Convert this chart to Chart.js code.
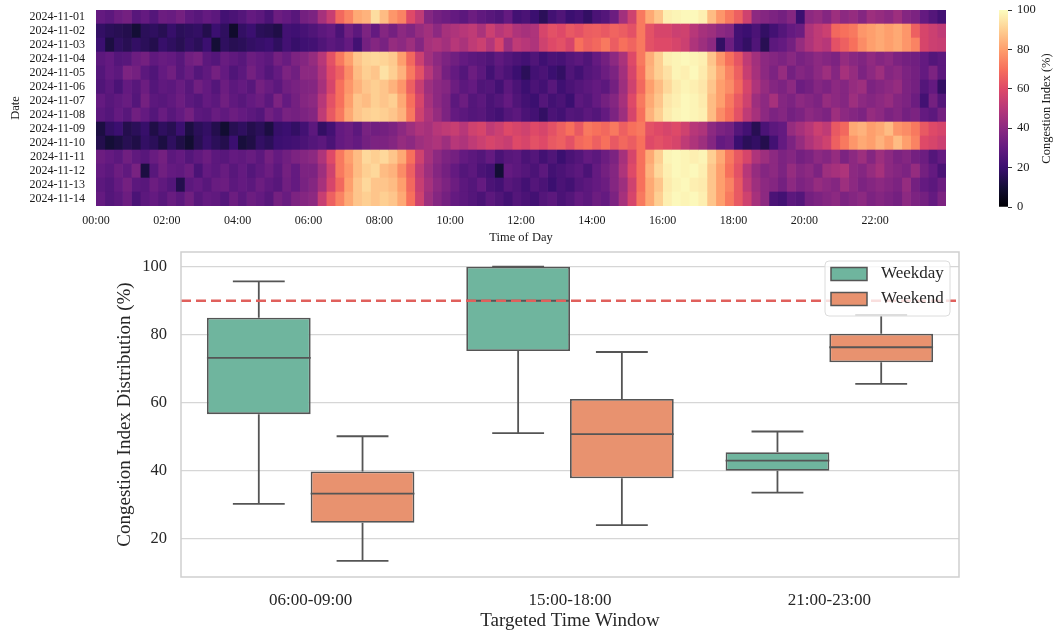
<!DOCTYPE html>
<html>
<head>
<meta charset="utf-8">
<script src="https://cdn.jsdelivr.net/npm/chart.js@4.4.1/dist/chart.umd.min.js"></script>
<style>
  html, body { margin: 0; padding: 0; background: #fff; }
  #wrap { position: relative; width: 1054px; height: 632px; overflow: hidden; }
  canvas { position: absolute; }
</style>
</head>
<body>
<div id="wrap">
  <canvas id="heat" width="960" height="250" style="left:0px;top:0px"></canvas>
  <canvas id="cbar" width="94" height="250" style="left:960px;top:0px"></canvas>
  <canvas id="box" width="1054" height="387" style="left:0px;top:245px"></canvas>
</div>
<script>
// ---- heatmap data: congestion index (%) per 15-minute slot, one row per date ----
const dates = ['2024-11-01', '2024-11-02', '2024-11-03', '2024-11-04', '2024-11-05', '2024-11-06', '2024-11-07',
               '2024-11-08', '2024-11-09', '2024-11-10', '2024-11-11', '2024-11-12', '2024-11-13', '2024-11-14'];
const hourTicks = [0, 2, 4, 6, 8, 10, 12, 14, 16, 18, 20, 22];
const hourLabels = ['00:00', '02:00', '04:00', '06:00', '08:00', '10:00', '12:00', '14:00', '16:00', '18:00', '20:00', '22:00'];
const slotHours = 0.25;

const nov01 = [30,28,32,34,27,30,26,32, 31,34,29,27,30,28,22,24, 26,30,28,24,32,30,27,34, 36,46,54,68,74,82,84,93, 86,78,74,60,52,38,34,32, 30,28,32,29,27,25,30,22, 24,20,16,22,25,20,22,18, 24,26,32,45,56,72,82,88, 97,98,99,99,97,86,78,72, 66,56,40,38,36,34,38,20, 40,42,38,44,40,42,38,44, 42,40,44,38,36,30,26,22];
const nov02 = [18,16,15,14,10,16,17,15, 19,16,17,18,14,20,17,8, 18,20,16,15,13,22,21,23, 25,28,30,24,33,28,36,30, 38,34,40,37,42,45,40,46, 48,50,52,47,55,50,53,48, 46,48,58,62,60,64,62,65, 66,64,67,65,62,72,62,58, 58,55,56,50,46,44,40,38, 22,20,24,18,22,26,30,32, 48,52,55,68,70,72,78,80, 82,80,82,78,66,58,55,52];
const nov03 = [20,12,17,15,18,16,14,19, 17,15,18,16,20,10,17,15, 16,18,19,20,17,22,19,21, 22,25,28,26,30,22,34,38, 35,42,40,44,38,46,48,45, 50,47,52,55,49,58,44,52, 50,48,56,60,62,58,70,66, 68,72,65,70,67,72,62,60, 60,58,55,48,44,40,18,32, 22,18,25,15,28,30,34,42, 48,52,50,62,66,70,76,80, 82,80,82,78,74,58,55,54];
const nov04 = [28,30,26,27,32,34,29,31, 30,27,33,35,28,26,31,29, 27,32,30,28,34,31,36,38, 42,50,62,72,80,88,91,92, 91,89,80,68,55,45,40,36, 33,30,28,27,25,29,26,24, 22,25,21,24,23,26,28,25, 30,34,40,47,60,72,83,90, 97,98,99,98,97,88,78,70, 63,52,45,40,38,36,39,35, 37,40,38,36,42,39,37,41, 38,40,36,34,33,30,26,28];
const nov05 = [26,30,28,36,34,28,25,30, 33,27,31,26,29,34,30,25, 28,34,30,26,30,36,33,40, 40,48,60,66,76,86,90,88, 94,90,84,72,62,50,42,34, 30,26,32,28,22,27,24,20, 16,22,24,20,18,25,22,26, 28,32,36,45,58,70,84,90, 94,98,97,99,96,90,82,74, 66,54,46,40,36,42,34,38, 36,40,44,38,46,42,36,40, 44,38,40,36,34,30,36,28];
const nov06 = [25,28,24,30,27,32,26,29, 28,31,27,33,30,26,32,28, 30,27,34,31,28,33,35,37, 38,46,58,70,78,84,88,90, 88,84,78,66,54,44,40,38, 32,28,30,25,26,22,28,24, 20,24,22,27,21,24,26,28, 30,28,34,44,56,68,80,86, 92,96,98,97,95,88,80,76, 68,58,48,42,38,36,40,32, 34,38,36,40,38,42,44,36, 38,40,42,36,34,26,30,18];
const nov07 = [30,27,29,31,26,34,28,27, 29,32,28,26,30,28,33,29, 27,30,32,28,36,30,34,38, 40,50,62,70,80,88,86,90, 88,90,82,70,58,46,40,36, 28,32,26,28,24,26,30,25, 22,20,26,22,24,20,28,26, 30,34,38,46,60,72,82,88, 95,97,99,98,96,86,80,72, 64,56,44,40,46,38,36,40, 38,36,42,40,38,44,40,38, 40,42,38,36,32,22,34,26];
const nov08 = [28,26,30,27,33,30,26,31, 27,30,34,28,27,31,29,32, 30,28,26,33,30,35,34,36, 38,52,64,72,82,88,90,91, 90,88,84,72,56,48,42,36, 30,28,26,27,24,22,26,28, 24,22,18,24,22,26,25,28, 26,30,36,44,58,70,84,90, 96,98,99,98,97,86,76,70, 62,52,46,40,36,38,34,36, 40,38,36,44,40,38,36,42, 40,36,38,34,36,30,28,34];
const nov09 = [12,18,20,14,16,19,13,17, 15,20,12,16,18,14,9,15, 17,14,16,12,19,20,18,22, 28,18,22,30,32,28,35,33, 34,36,40,44,48,46,50,52, 54,50,56,58,52,55,60,58, 56,60,58,62,66,70,64,72, 70,68,72,66,70,72,62,60, 58,60,56,50,48,40,36,34, 26,22,15,24,28,30,42,46, 50,55,52,64,68,82,84,80, 82,86,78,76,72,64,60,58];
const nov10 = [14,10,12,15,13,18,16,12, 17,13,9,15,19,16,14,20, 11,13,18,16,20,21,22,24, 26,28,24,30,32,30,34,36, 36,38,42,40,44,46,48,44, 50,48,52,55,58,56,54,60, 58,62,60,64,66,62,68,70, 66,70,64,68,65,70,60,62, 60,58,52,48,44,38,30,32, 20,16,18,14,22,30,36,42, 48,52,56,66,72,78,82,80, 84,80,86,80,74,60,58,55];
const nov11 = [32,30,28,33,29,27,31,34, 28,30,26,29,32,28,27,30, 29,31,28,34,30,33,36,38, 40,48,60,72,80,86,92,90, 92,88,82,70,56,46,40,36, 34,30,28,26,30,24,27,28, 24,26,22,25,20,24,26,30, 28,32,36,46,58,70,82,90, 98,99,98,97,98,90,82,72, 64,58,48,44,40,36,38,34, 36,40,38,42,36,40,44,38, 44,40,36,38,34,32,26,30];
const nov12 = [30,28,32,29,35,12,27,33, 30,29,32,24,30,28,31,27, 30,26,29,32,28,34,30,36, 36,44,56,72,78,86,90,92, 86,84,76,66,52,44,38,34, 30,26,28,24,22,10,30,28, 26,24,28,22,24,26,28,24, 30,34,38,48,60,70,84,92, 97,99,98,99,97,88,80,70, 62,50,42,38,40,36,42,38, 40,36,44,46,48,40,38,42, 46,40,38,36,42,34,30,24];
const nov13 = [28,26,30,34,28,27,32,29, 26,14,28,30,27,31,32,28, 30,28,32,29,27,33,30,35, 38,46,58,68,80,88,92,88, 88,86,80,68,54,46,40,36, 32,28,26,30,24,22,27,25, 22,26,24,20,24,22,26,28, 30,32,38,44,56,70,82,88, 96,98,99,97,96,88,80,74, 64,52,44,40,38,34,40,36, 38,42,40,38,44,40,36,38, 40,38,36,42,34,30,28,32];
const nov14 = [30,26,28,32,24,28,30,27, 31,28,33,27,30,29,26,32, 28,32,30,27,34,31,36,38, 40,54,66,74,82,88,90,88, 90,88,82,70,56,44,38,34, 30,28,26,24,28,25,22,26, 24,22,26,28,24,26,30,28, 32,30,36,46,58,72,82,90, 97,99,98,99,97,88,80,72, 64,56,46,40,24,22,28,26, 34,36,38,40,36,38,40,36, 38,36,34,40,36,34,30,36];
const rows = [nov01, nov02, nov03, nov04, nov05, nov06, nov07, nov08, nov09, nov10, nov11, nov12, nov13, nov14];

// ---- box plot data: congestion index distribution per time window ----
const windows = ['06:00-09:00', '15:00-18:00', '21:00-23:00'];
const weekdayMin = [30.2, 51.0, 33.5];
const weekdayQ1 = [56.6, 75.2, 39.9];
const weekdayMedian = [73.2, 90.0, 42.9];
const weekdayQ3 = [85.0, 100.0, 45.4];
const weekdayMax = [95.7, 100.0, 51.5];
const weekendMin = [13.4, 23.9, 65.5];
const weekendQ1 = [24.6, 37.7, 71.9];
const weekendMedian = [33.2, 50.7, 76.3];
const weekendQ3 = [39.7, 61.1, 80.3];
const weekendMax = [50.1, 74.9, 85.8];
const threshold = 90;
const yTicks = [20, 40, 60, 80, 100];

Chart.defaults.font.family = '"Liberation Serif", "Times New Roman", serif';
Chart.defaults.color = '#262626';

const magmaStops = ['#000004', '#140e36', '#3b0f70', '#641a80', '#8c2981', '#b73779',
                    '#de4968', '#f7705c', '#fe9f6d', '#fecf92', '#fcfdbf'];

function hexRgb(h) {
    return [parseInt(h.slice(1, 3), 16), parseInt(h.slice(3, 5), 16), parseInt(h.slice(5, 7), 16)];
}

function magma(t) {
    t = Math.max(0, Math.min(1, t));
    let p = t * (magmaStops.length - 1);
    let i = Math.min(Math.floor(p), magmaStops.length - 2);
    let f = p - i;
    let a = hexRgb(magmaStops[i]), b = hexRgb(magmaStops[i + 1]);
    return 'rgb(' + a.map((v, k) => Math.round(v + (b[k] - v) * f)).join(',') + ')';
}

// fix an axis box to an exact size and drop the label overhang padding
function fixWidth(w) {
    return s => { s.width = w; s.paddingTop = 0; s.paddingBottom = 0; };
}
function fixHeight(h) {
    return s => { s.height = h; s.paddingLeft = 0; s.paddingRight = 0; };
}

// one floating-bar dataset per 15-minute slot, coloured row by row
let heatDatasets = [];
for (let j = 0; j < nov01.length; j++) {
    let start = j * slotHours;
    heatDatasets.push({
        data: dates.map(() => [start, start + slotHours]),
        backgroundColor: rows.map(r => magma(r[j] / 100)),
        borderWidth: 0,
        grouped: false,
        barPercentage: 1,
        categoryPercentage: 1
    });
}

new Chart(document.getElementById('heat'), {
    type: 'bar',
    data: { labels: dates, datasets: heatDatasets },
    options: {
        indexAxis: 'y',
        responsive: false,
        animation: false,
        devicePixelRatio: 1,
        layout: { padding: { top: 10, right: 14, left: 0, bottom: 0 } },
        plugins: { legend: { display: false }, tooltip: { enabled: false } },
        scales: {
            y: {
                afterFit: fixWidth(96),
                grid: { display: false, drawTicks: false },
                border: { display: false },
                ticks: { padding: 11, autoSkip: false, font: { size: 12 }, color: '#1a1a1a' },
                title: { display: true, text: 'Date', font: { size: 12.5 }, color: '#1a1a1a', padding: { top: 8, bottom: 0 } }
            },
            x: {
                type: 'linear',
                min: 0,
                max: 24,
                afterBuildTicks: s => { s.ticks = hourTicks.map(v => ({ value: v })); },
                afterFit: fixHeight(44),
                grid: { display: false, drawTicks: false },
                border: { display: false },
                ticks: {
                    padding: 8, maxRotation: 0, autoSkip: false, font: { size: 12 }, color: '#1a1a1a',
                    callback: v => hourLabels[hourTicks.indexOf(v)]
                },
                title: { display: true, text: 'Time of Day', font: { size: 12.5 }, color: '#1a1a1a', padding: { top: 0, bottom: 5 } }
            }
        }
    }
});

// colour bar
const cbarTitle = {
    id: 'cbarTitle',
    afterDraw(chart) {
        let a = chart.chartArea, ctx = chart.ctx;
        ctx.save();
        ctx.translate(87, (a.top + a.bottom) / 2);
        ctx.rotate(-Math.PI / 2);
        ctx.font = '12.5px "Liberation Serif"';
        ctx.fillStyle = '#1a1a1a';
        ctx.textAlign = 'center';
        ctx.textBaseline = 'middle';
        ctx.fillText('Congestion Index (%)', 0, 0);
        ctx.restore();
    }
};

new Chart(document.getElementById('cbar'), {
    type: 'bar',
    data: {
        labels: [''],
        datasets: [{
            data: [[0, 100]],
            borderWidth: 0,
            barPercentage: 1,
            categoryPercentage: 1,
            backgroundColor: c => {
                let a = c.chart.chartArea;
                if (!a) return '#000';
                let g = c.chart.ctx.createLinearGradient(0, a.bottom, 0, a.top);
                magmaStops.forEach((col, i) => g.addColorStop(i / (magmaStops.length - 1), col));
                return g;
            }
        }]
    },
    options: {
        responsive: false,
        animation: false,
        devicePixelRatio: 1,
        layout: { padding: { top: 10, bottom: 43, left: 39, right: 0 } },
        plugins: { legend: { display: false }, tooltip: { enabled: false } },
        scales: {
            x: { display: false },
            y: {
                position: 'right',
                min: 0,
                max: 100,
                afterFit: fixWidth(46),
                ticks: { stepSize: 20, padding: 5, font: { size: 12.5 }, color: '#1a1a1a' },
                grid: { drawOnChartArea: false, tickLength: 4, color: '#333' },
                border: { display: false }
            }
        }
    },
    plugins: [cbarTitle]
});

// whiskers, medians, threshold line, frame and legend for the box plot
const boxExtras = {
    id: 'boxExtras',
    afterDatasetsDraw(chart) {
        let ctx = chart.ctx, a = chart.chartArea, y = chart.scales.y;
        ctx.save();
        chart.data.datasets.forEach((ds, di) => {
            chart.getDatasetMeta(di).data.forEach((bar, i) => {
                let half = bar.width / 2, cap = bar.width / 4;
                let yq1 = y.getPixelForValue(ds.data[i][0]);
                let yq3 = y.getPixelForValue(ds.data[i][1]);
                let ylo = y.getPixelForValue(ds.lows[i]);
                let yhi = y.getPixelForValue(ds.highs[i]);
                let ymed = y.getPixelForValue(ds.medians[i]);
                ctx.strokeStyle = '#555555';
                ctx.lineWidth = 1.8;
                ctx.beginPath();
                ctx.moveTo(bar.x, yq3); ctx.lineTo(bar.x, yhi);
                ctx.moveTo(bar.x - cap, yhi); ctx.lineTo(bar.x + cap, yhi);
                ctx.moveTo(bar.x, yq1); ctx.lineTo(bar.x, ylo);
                ctx.moveTo(bar.x - cap, ylo); ctx.lineTo(bar.x + cap, ylo);
                ctx.moveTo(bar.x - half, ymed); ctx.lineTo(bar.x + half, ymed);
                ctx.stroke();
            });
        });
        let yt = y.getPixelForValue(threshold);
        ctx.setLineDash([10, 5]);
        ctx.strokeStyle = '#e0605c';
        ctx.lineWidth = 2.6;
        ctx.beginPath();
        ctx.moveTo(a.left, yt);
        ctx.lineTo(a.right, yt);
        ctx.stroke();
        ctx.setLineDash([]);
        ctx.strokeStyle = '#cfcfcf';
        ctx.lineWidth = 1.5;
        ctx.strokeRect(a.left, a.top, a.right - a.left, a.bottom - a.top);
        ctx.restore();
    },
    afterDraw(chart) {
        let ctx = chart.ctx, a = chart.chartArea;
        let lx = a.right - 134, ly = a.top + 9, lw = 125, lh = 55;
        ctx.save();
        ctx.beginPath();
        if (ctx.roundRect) ctx.roundRect(lx, ly, lw, lh, 4); else ctx.rect(lx, ly, lw, lh);
        ctx.fillStyle = 'rgba(255,255,255,0.8)';
        ctx.fill();
        ctx.strokeStyle = '#dcdcdc';
        ctx.lineWidth = 1;
        ctx.stroke();
        chart.data.datasets.forEach((ds, k) => {
            let cy = ly + 13 + k * 25;
            ctx.fillStyle = ds.backgroundColor;
            ctx.fillRect(lx + 6, cy - 6.5, 36, 13);
            ctx.strokeStyle = '#555555';
            ctx.lineWidth = 1.5;
            ctx.strokeRect(lx + 6, cy - 6.5, 36, 13);
            ctx.fillStyle = '#262626';
            ctx.font = '17px "Liberation Serif"';
            ctx.textBaseline = 'middle';
            ctx.fillText(ds.label, lx + 56, cy);
        });
        ctx.restore();
    }
};

new Chart(document.getElementById('box'), {
    type: 'bar',
    data: {
        labels: windows,
        datasets: [{
            label: 'Weekday',
            data: windows.map((w, i) => [weekdayQ1[i], weekdayQ3[i]]),
            lows: weekdayMin, medians: weekdayMedian, highs: weekdayMax,
            backgroundColor: '#6fb59e',
            borderColor: '#555555',
            borderWidth: 1.8,
            borderSkipped: false
        }, {
            label: 'Weekend',
            data: windows.map((w, i) => [weekendQ1[i], weekendQ3[i]]),
            lows: weekendMin, medians: weekendMedian, highs: weekendMax,
            backgroundColor: '#e8926f',
            borderColor: '#555555',
            borderWidth: 1.8,
            borderSkipped: false
        }]
    },
    options: {
        responsive: false,
        animation: false,
        devicePixelRatio: 1,
        categoryPercentage: 0.8,
        barPercentage: 1,
        layout: { padding: { top: 7, right: 95, left: 0, bottom: 0 } },
        plugins: { legend: { display: false }, tooltip: { enabled: false } },
        scales: {
            x: {
                afterFit: fixHeight(55),
                grid: { display: false, drawTicks: false },
                border: { display: false },
                ticks: { padding: 13, font: { size: 17 } },
                title: { display: true, text: 'Targeted Time Window', font: { size: 19 }, padding: { top: 0, bottom: 0 } }
            },
            y: {
                min: 8.65,
                max: 104.35,
                afterBuildTicks: s => { s.ticks = yTicks.map(v => ({ value: v })); },
                afterFit: fixWidth(181),
                grid: { color: '#d6d6d6', lineWidth: 1.2, drawTicks: false },
                border: { display: false },
                ticks: { padding: 14, font: { size: 16.5 } },
                title: { display: true, text: 'Congestion Index Distribution (%)', font: { size: 19 }, padding: { top: 114, bottom: 0 } }
            }
        }
    },
    plugins: [boxExtras]
});
</script>
</body>
</html>
